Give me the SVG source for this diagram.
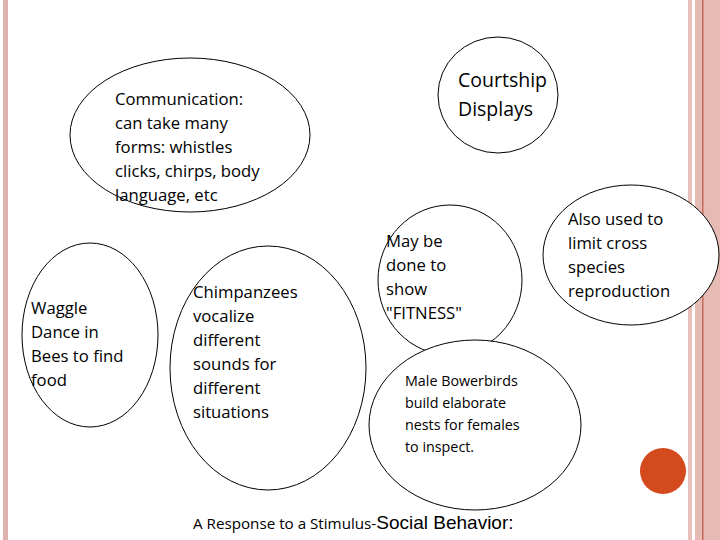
<svg xmlns="http://www.w3.org/2000/svg" width="720" height="540" viewBox="0 0 720 540">
<style>
.n{fill:#fff;stroke:#000;stroke-width:1}
.t{font-family:"Open Sans","DejaVu Sans",sans-serif;font-size:16.7px;fill:#000}
.s{font-family:"Open Sans","DejaVu Sans",sans-serif;font-size:14.3px;fill:#000}
</style>
<rect width="720" height="540" fill="#fff"/>
<rect x="3" y="0" width="5" height="540" fill="#dfb3ad"/>
<rect x="688" y="0" width="4" height="540" fill="#e8c0ba"/>
<rect x="695" y="0" width="25" height="540" fill="#e6bbb4"/>
<rect x="702" y="0" width="1.5" height="540" fill="#c8685c"/>
<g id="communication"><ellipse class="n" cx="190" cy="135" rx="120" ry="77"/>
<text class="t"><tspan x="115" y="105">Communication:</tspan><tspan x="115" y="129">can take many</tspan><tspan x="115" y="153">forms:  whistles</tspan><tspan x="115" y="177">clicks, chirps, body</tspan><tspan x="115" y="201">language, etc</tspan></text></g>
<g id="courtship"><ellipse class="n" cx="498" cy="95" rx="60" ry="58"/>
<text class="t"><tspan x="458" y="87" style="font-size:19.5px">Courtship</tspan><tspan x="458" y="116" style="font-size:19.5px">Displays</tspan></text></g>
<g id="waggle"><ellipse class="n" cx="90" cy="335" rx="68" ry="92"/>
<text class="t"><tspan x="31" y="314">Waggle</tspan><tspan x="31" y="338">Dance in</tspan><tspan x="31" y="362">Bees to find</tspan><tspan x="31" y="386">food</tspan></text></g>
<g id="chimp"><ellipse class="n" cx="268" cy="368" rx="98" ry="122"/>
<text class="t"><tspan x="193" y="298">Chimpanzees</tspan><tspan x="193" y="322">vocalize</tspan><tspan x="193" y="346">different</tspan><tspan x="193" y="370">sounds for</tspan><tspan x="193" y="394">different</tspan><tspan x="193" y="418">situations</tspan></text></g>
<g id="fitness"><ellipse class="n" cx="450" cy="280" rx="72" ry="75"/>
<text class="t"><tspan x="386" y="247">May be</tspan><tspan x="386" y="271">done to</tspan><tspan x="386" y="295">show</tspan><tspan x="386" y="319">"FITNESS"</tspan></text></g>
<g id="crossspecies"><ellipse class="n" cx="631" cy="255" rx="88" ry="70"/>
<text class="t"><tspan x="568" y="225">Also used to</tspan><tspan x="568" y="249">limit cross</tspan><tspan x="568" y="273">species</tspan><tspan x="568" y="297">reproduction</tspan></text></g>
<g id="bowerbirds"><ellipse class="n" cx="475" cy="425" rx="106" ry="85"/>
<text class="s"><tspan x="405" y="386">Male Bowerbirds</tspan><tspan x="405" y="408">build elaborate</tspan><tspan x="405" y="430">nests for females</tspan><tspan x="405" y="452">to inspect.</tspan></text></g>
<circle cx="663" cy="471" r="23" fill="#d24a1e"/>
<g id="connectors"></g>
<text x="193" y="529" style="font-family:'Open Sans','DejaVu Sans',sans-serif;font-size:15.2px">A Response to a Stimulus-<tspan style="font-family:'Liberation Sans',Arial,sans-serif;font-size:19px">Social Behavior</tspan><tspan style="font-family:'Liberation Sans',Arial,sans-serif;font-size:19px">:</tspan></text>
</svg>
